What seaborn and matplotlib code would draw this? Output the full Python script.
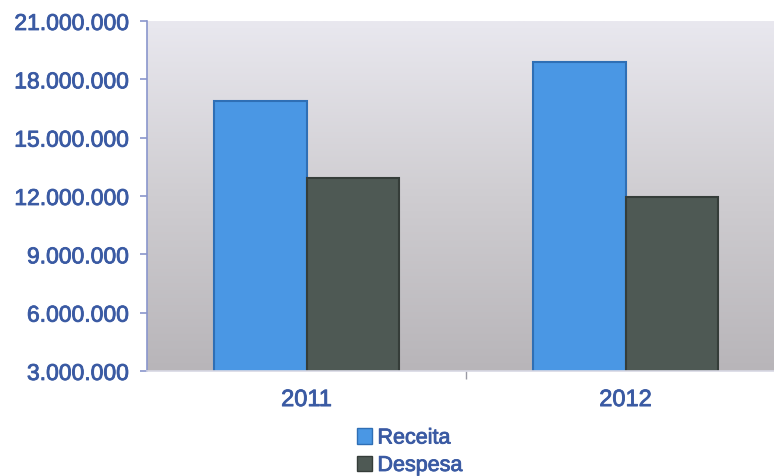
import numpy as np
import pandas as pd
import matplotlib
matplotlib.use("Agg")
import matplotlib.pyplot as plt
import matplotlib.patheffects as pe
from matplotlib.ticker import FuncFormatter, MultipleLocator
from matplotlib.colors import LinearSegmentedColormap
from matplotlib.patches import Patch
import seaborn as sns

# Revenue vs. expense per year
years = ["2011", "2012"]
series = ["Receita", "Despesa"]
receita = [16_900_000, 18_900_000]
despesa = [12_950_000, 11_950_000]

df = pd.DataFrame({
    "Ano": years * 2,
    "Serie": [series[0]] * len(years) + [series[1]] * len(years),
    "Valor": receita + despesa,
})

palette = {"Receita": "#4a97e4", "Despesa": "#4e5954"}
edges = {"Receita": "#2f6fb5", "Despesa": "#353d39"}
text_color = "#3a5aa3"
heavy = [pe.withStroke(linewidth=0.6, foreground=text_color)]

sns.set_theme(style="white")
plt.rcParams["font.family"] = ["Liberation Sans", "DejaVu Sans"]

fig = plt.figure(figsize=(7.74, 4.77), dpi=100)
ax = fig.add_axes([147 / 774, 105 / 477, 638 / 774, 350 / 477])

# soft grey gradient behind the bars
grad = LinearSegmentedColormap.from_list("bg", ["#b8b5b9", "#cfcdd1", "#e9e8ef"])
ax.imshow(np.linspace(0, 1, 256).reshape(-1, 1), cmap=grad, origin="lower",
          extent=[0, 1, 0, 1], transform=ax.transAxes, aspect="auto", zorder=0)

sns.barplot(data=df, x="Ano", y="Valor", hue="Serie", palette=palette,
            width=0.58, ax=ax, legend=False, zorder=2, saturation=1)

for bar, (_, row) in zip(ax.patches, df.iterrows()):
    bar.set_edgecolor(edges[row["Serie"]])
    bar.set_linewidth(1.5)

ax.set_ylim(3_000_000, 21_000_000)
ax.set_xlim(-0.5, 1.5)
ax.yaxis.set_major_locator(MultipleLocator(3_000_000))
ax.yaxis.set_major_formatter(FuncFormatter(lambda v, _: f"{int(v):,}".replace(",", ".")))
ax.set_xlabel("")
ax.set_ylabel("")

for s in ["top", "right"]:
    ax.spines[s].set_visible(False)
ax.spines["left"].set_color("#8a96cc")
ax.spines["left"].set_linewidth(1.2)
ax.spines["bottom"].set_color("#d8d8e4")
ax.spines["bottom"].set_linewidth(1.2)

ax.tick_params(axis="y", which="major", left=True, length=5, width=1.2,
               color="#8a96cc", labelsize=16.5, labelcolor=text_color, pad=8)
ax.tick_params(axis="x", bottom=False, labelsize=17, labelcolor=text_color, pad=7)
ax.set_xticks([0.5], minor=True)
ax.tick_params(axis="x", which="minor", bottom=True, length=6, width=1, color="#9a9aa4")

for lbl in ax.get_xticklabels() + ax.get_yticklabels():
    lbl.set_path_effects(heavy)

handles = [Patch(facecolor=palette[s], edgecolor=edges[s], label=s) for s in series]
leg = fig.legend(handles=handles, loc="lower left", bbox_to_anchor=(357 / 774, 0.0),
                 frameon=False, fontsize=15.5, labelcolor=text_color, handlelength=0.7,
                 handleheight=0.7, handletextpad=0.25, labelspacing=0.3, borderpad=0,
                 borderaxespad=0)
for t in leg.get_texts():
    t.set_path_effects(heavy)

fig.savefig("out.png", dpi=100)
